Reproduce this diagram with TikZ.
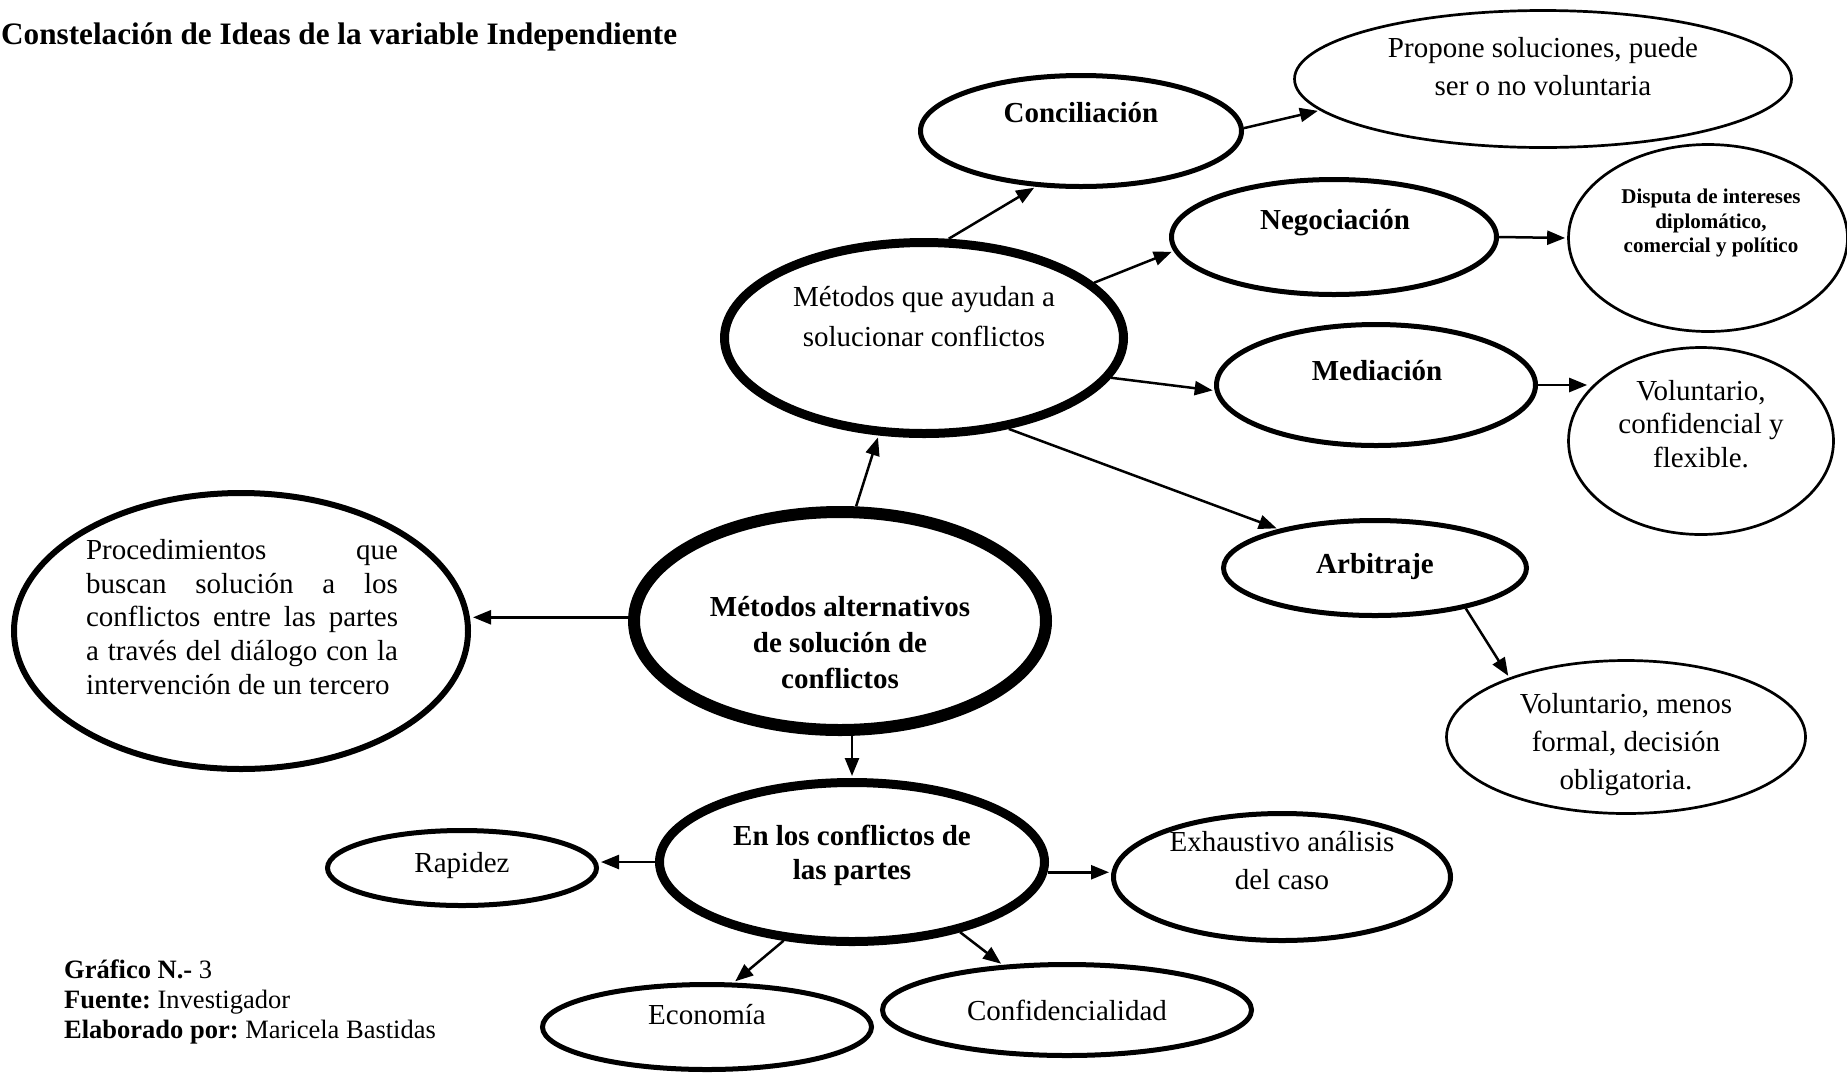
\documentclass[tikz,border=0pt]{standalone}
\usepackage{fontspec}
\setmainfont{Liberation Serif}
\frenchspacing
\usetikzlibrary{shapes.geometric,arrows.meta,positioning}

\begin{document}
\begin{tikzpicture}[x=1pt,y=-1pt,
    idea/.style={draw,ellipse,inner sep=0pt,line width=5pt},
    thinidea/.style={idea,line width=2.7pt},
    bigidea/.style={idea,line width=9pt},
    txt/.style={align=center,inner sep=0pt,font=\fontsize{29}{38}\selectfont},
    boldtxt/.style={txt,font=\fontsize{29}{36}\selectfont\bfseries},
    arr/.style={line width=2.5pt,shorten >=2pt,-{Triangle[length=18pt,width=14pt]}}]
    \useasboundingbox (0,0) rectangle (1847,1072);
    \node[anchor=west,inner sep=0pt,font=\fontsize{31.2}{37}\selectfont\bfseries] (title) at (1,37) {Constelación de Ideas de la variable Independiente};
    \node[idea,line width=12pt,minimum width=412pt,minimum height=218pt] (main) at (840,621) {};
    \node[bigidea,minimum width=399pt,minimum height=191pt] (met) at (924,338) {};
    \node[idea,line width=6pt,minimum width=454pt,minimum height=276pt] (proc) at (241,631) {};
    \node[bigidea,minimum width=385pt,minimum height=159pt] (enlos) at (852,862) {};
    \node[idea,minimum width=321pt,minimum height=111pt] (conc) at (1081,131) {};
    \node[thinidea,minimum width=497pt,minimum height=137pt] (prop) at (1543,79) {};
    \node[idea,minimum width=325pt,minimum height=115pt] (neg) at (1334,237) {};
    \node[thinidea,minimum width=279pt,minimum height=187pt] (disp) at (1708,238) {};
    \node[idea,minimum width=319pt,minimum height=121pt] (med) at (1376,385) {};
    \node[thinidea,minimum width=265pt,minimum height=187pt] (volc) at (1701,441) {};
    \node[idea,minimum width=303pt,minimum height=95pt] (arb) at (1375,568) {};
    \node[thinidea,minimum width=359pt,minimum height=153pt] (volm) at (1626,737) {};
    \node[idea,minimum width=269pt,minimum height=75pt] (rap) at (462,868) {};
    \node[idea,minimum width=337pt,minimum height=127pt] (exh) at (1282,877) {};
    \node[idea,minimum width=329pt,minimum height=85pt] (eco) at (707,1027) {};
    \node[idea,minimum width=369pt,minimum height=91pt] (conf) at (1067,1010) {};

    \node[boldtxt] (main-t) at (840,643) {Métodos alternativos\\de solución de\\conflictos};
    \node[txt,font=\fontsize{29}{40}\selectfont] (met-t) at (924,317) {Métodos que ayudan a\\solucionar conflictos};
    \node[txt,align=justify,text width=312pt,font=\fontsize{29}{33.6}\selectfont] (proc-t) at (242,617) {Procedimientos que\linebreak buscan solución a los\linebreak conflictos entre las partes\linebreak a través del diálogo con la\linebreak intervención de un tercero};
    \node[boldtxt,font=\fontsize{29}{34}\selectfont\bfseries] (enlos-t) at (852,855) {En los conflictos de\\las partes};
    \node[boldtxt] (conc-t) at (1081,113) {Conciliación};
    \node[txt] (prop-t) at (1543,67) {Propone soluciones, puede\\ser o no voluntaria};
    \node[boldtxt] (neg-t) at (1335,223) {Negociación};
    \node[boldtxt,font=\fontsize{21}{24.7}\selectfont\bfseries] (disp-t) at (1711,223) {Disputa de intereses\\diplomático,\\comercial y político};
    \node[boldtxt] (med-t) at (1377,371) {Mediación};
    \node[txt,font=\fontsize{29}{33.6}\selectfont] (volc-t) at (1701,424) {Voluntario,\\confidencial y\\flexible.};
    \node[boldtxt] (arb-t) at (1375,567) {Arbitraje};
    \node[txt] (volm-t) at (1626,745) {Voluntario, menos\\formal, decisión\\obligatoria.};
    \node[txt] (rap-t) at (462,866) {Rapidez};
    \node[txt] (exh-t) at (1282,861) {Exhaustivo análisis\\del caso};
    \node[txt] (eco-t) at (707,1015) {Economía};
    \node[txt] (conf-t) at (1067,1010) {Confidencialidad};

    \draw[arr] (main.82) -- (met.245);
    \draw[arr] (main.179) -- (main.179 -| proc.east);
    \draw[arr] (main.south -| enlos.north) -- (enlos.north);
    \draw[arr] (met.76) -- (conc.231);
    \draw[arr] (met.18) -- (neg.185);
    \draw[arr] (met.348) -- (med.182);
    \draw[arr] (met.313) -- (arb.158);
    \draw[arr] (conc.1) -- (prop.188);
    \draw[arr] (neg.east) -- (disp.west);
    \draw[arr] (med.east) -- (med.east -| volc.155);
    \draw[arr] (arb.336) -- (volm.153);
    \draw[arr] (enlos.west) -- (enlos.west -| rap.east);
    \draw[arr] (enlos.357) -- (enlos.357 -| exh.west);
    \draw[arr] (enlos.229) -- (eco.59);
    \draw[arr] (enlos.327) -- (conf.145);

    \node[anchor=west,align=left,inner sep=0pt,font=\fontsize{26.5}{30}\selectfont] (foot) at (64,1002) {\textbf{Gráfico N.-} 3\\\textbf{Fuente:} Investigador\\\textbf{Elaborado por:} Maricela Bastidas};
\end{tikzpicture}
\end{document}
